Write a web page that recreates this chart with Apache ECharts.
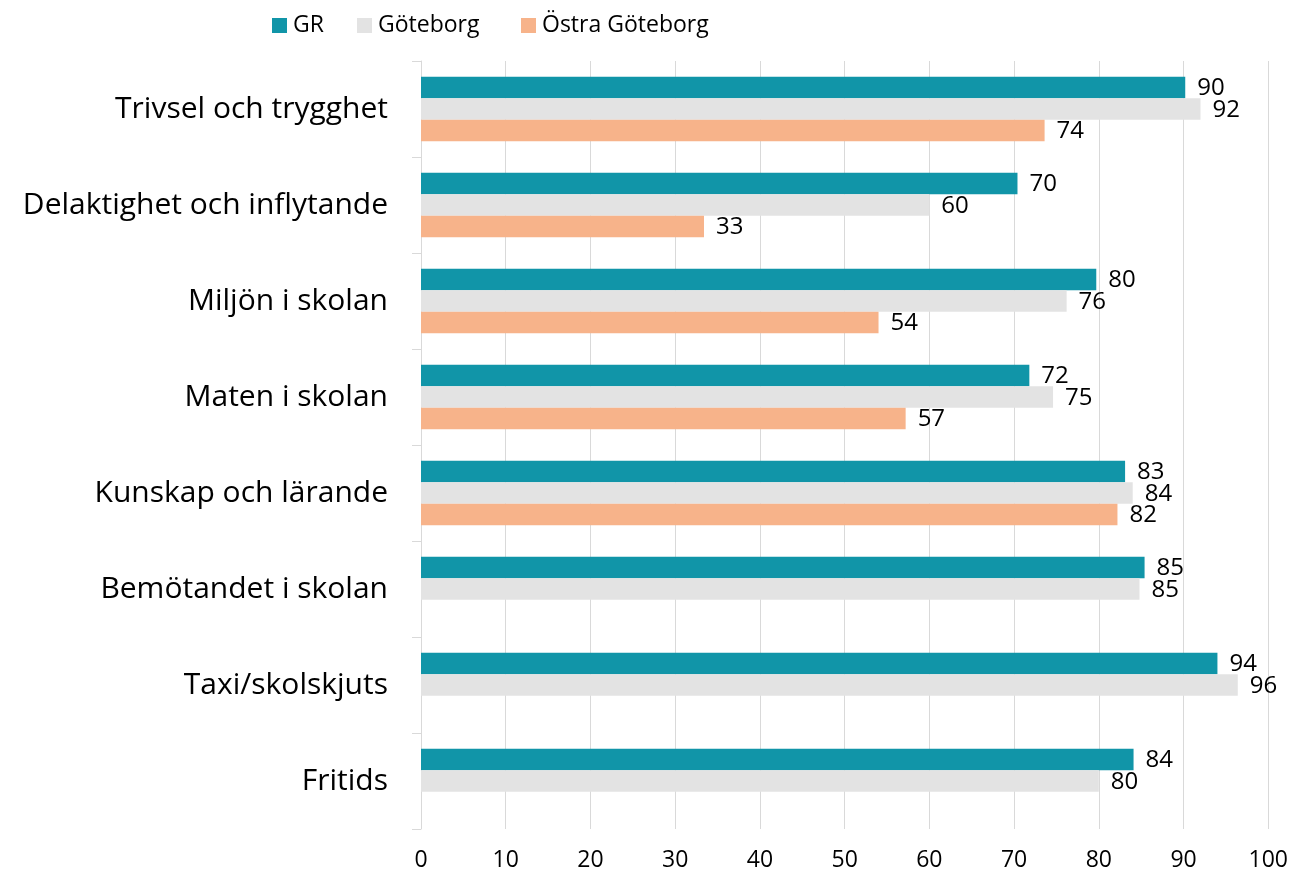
<!DOCTYPE html>
<html><head><meta charset="utf-8">
<script src="https://cdn.jsdelivr.net/npm/echarts@6/dist/echarts.min.js"></script>
<style>html,body{margin:0;padding:0;background:#fff}#c{width:1291px;height:876px}</style>
</head><body><div id="c"></div>
<script>
const categories = ["Trivsel och trygghet","Delaktighet och inflytande","Miljön i skolan","Maten i skolan","Kunskap och lärande","Bemötandet i skolan","Taxi/skolskjuts","Fritids"];
const seriesNames = ["GR","Göteborg","Östra Göteborg"];
const grValues = [90.2, 70.4, 79.7, 71.8, 83.1, 85.4, 94.0, 84.1];
const goteborgValues = [92.0, 60.0, 76.2, 74.6, 84.0, 84.8, 96.4, 80.0];
const ostraValues = [73.6, 33.4, 54.0, 57.2, 82.2, null, null, null];
const xTicks = [0,10,20,30,40,50,60,70,80,90,100];

const FONT = '"Open Sans", "Noto Sans", sans-serif';
const chart = echarts.init(document.getElementById('c'), null, {renderer:'canvas'});
const lbl = {show:true, position:'right', distance:12, color:'#000', fontSize:24, fontFamily:FONT,
  offset:[0,1], formatter: p => Math.round(p.value)};
const legendBase = {top:14, padding:0, itemWidth:15, itemHeight:15, icon:'rect',
  textStyle:{fontSize:23, color:'#000', fontFamily:FONT, padding:[0,0,0,1]}};
chart.setOption({
  animation:false,
  textStyle:{fontFamily:FONT},
  legend:[
    Object.assign({left:272, data:[seriesNames[0]]}, legendBase),
    Object.assign({left:357, data:[seriesNames[1]]}, legendBase),
    Object.assign({left:521, data:[seriesNames[2]]}, legendBase)
  ],
  grid:{left:421, right:22, top:61, bottom:47, containLabel:false},
  xAxis:{type:'value', min:xTicks[0], max:xTicks[xTicks.length-1], interval:10,
    axisLine:{show:false}, axisTick:{show:false},
    splitLine:{show:true, lineStyle:{color:'#D9D9D9', width:1}},
    axisLabel:{fontSize:23, color:'#000', margin:20, fontFamily:FONT}},
  yAxis:{type:'category', data:categories, inverse:true,
    axisLine:{show:true, lineStyle:{color:'#D9D9D9', width:1}},
    axisTick:{show:true, length:9, lineStyle:{color:'#D9D9D9'}},
    axisLabel:{fontSize:30, color:'#000', margin:33, fontFamily:FONT}},
  series:[
    {name:seriesNames[0], type:'bar', data:grValues, barGap:'0%', barCategoryGap:'33%',
     itemStyle:{color:'#1195A8'}, label:lbl},
    {name:seriesNames[1], type:'bar', data:goteborgValues, barGap:'0%', barCategoryGap:'33%',
     itemStyle:{color:'#E3E3E3'}, label:lbl},
    {name:seriesNames[2], type:'bar', data:ostraValues, barGap:'0%', barCategoryGap:'33%',
     itemStyle:{color:'#F7B38A'}, label:lbl}
  ]
});
</script></body></html>
